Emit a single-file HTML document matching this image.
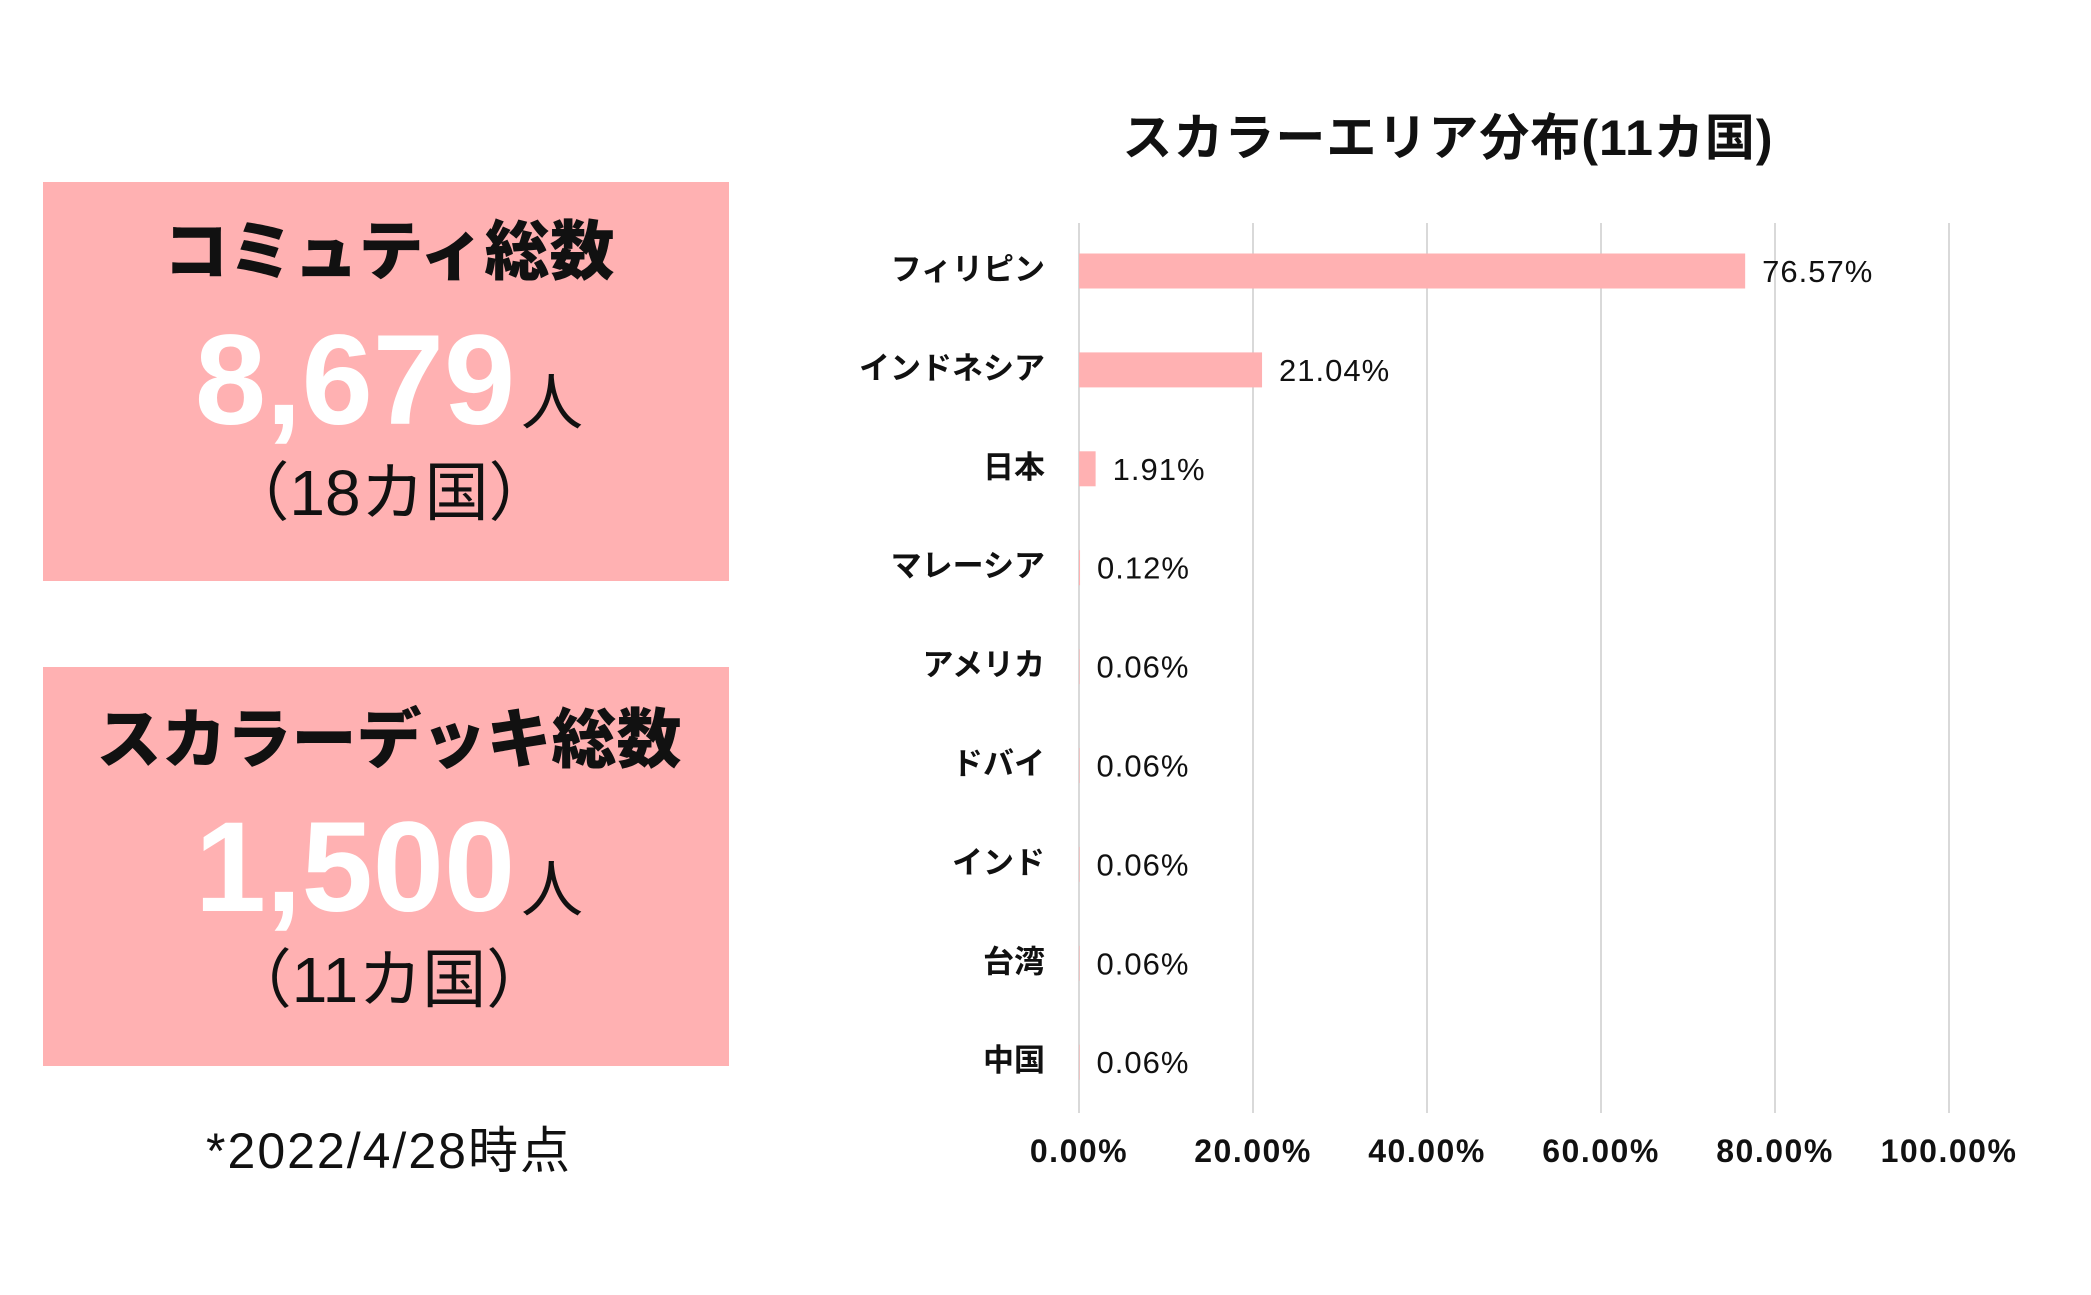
<!DOCTYPE html>
<html><head><meta charset="utf-8"><style>
body{margin:0;background:#fff;width:2091px;height:1295px;overflow:hidden;font-family:"Liberation Sans","Noto Sans CJK JP",sans-serif}
</style></head><body>
<svg width="2091" height="1295" xmlns="http://www.w3.org/2000/svg" style="position:absolute;left:0;top:0" font-family="Liberation Sans, Noto Sans CJK JP, sans-serif">
<g>
<rect x="43" y="182" width="686" height="399" fill="#ffb1b2"/>
<text x="389" y="274" text-anchor="middle" font-size="65" font-weight="900" fill="#111">コミュティ総数</text>
<text x="355" y="424" text-anchor="middle" font-size="128" font-weight="bold" fill="#fff">8,679</text>
<text x="552" y="424" text-anchor="middle" font-size="62" fill="#111">人</text>
<text x="389" y="515" text-anchor="middle" font-size="64" fill="#111">（18カ国）</text>
</g>
<g>
<rect x="43" y="667" width="686" height="399" fill="#ffb1b2"/>
<text x="389" y="762" text-anchor="middle" font-size="65" font-weight="900" fill="#111">スカラーデッキ総数</text>
<text x="355" y="911" text-anchor="middle" font-size="128" font-weight="bold" fill="#fff">1,500</text>
<text x="552" y="911" text-anchor="middle" font-size="62" fill="#111">人</text>
<text x="389" y="1002" text-anchor="middle" font-size="64" fill="#111">（11カ国）</text>
</g>
<text x="389" y="1168" text-anchor="middle" font-size="50" letter-spacing="2" fill="#111">*2022/4/28時点</text>
<text x="1448" y="155" text-anchor="middle" font-size="50" letter-spacing="1" font-weight="bold" fill="#111">スカラーエリア分布(11カ国)</text>
<g id="chart"></g>
</svg>
<script>
const categories=["フィリピン","インドネシア","日本","マレーシア","アメリカ","ドバイ","インド","台湾","中国"];
const values=[76.57,21.04,1.91,0.12,0.06,0.06,0.06,0.06,0.06];
const ticks=[0,20,40,60,80,100];
const NS="http://www.w3.org/2000/svg";
const g=document.getElementById('chart');
const x0=1079,x1=1949,top0=223,bot=1113,rowY0=271,rowStep=98.9;
const xs=v=>x0+(v/100)*(x1-x0);
const ys=i=>rowY0+i*rowStep;
function el(t,a,txt){const e=document.createElementNS(NS,t);for(const k in a)e.setAttribute(k,a[k]);if(txt!==undefined)e.textContent=txt;g.appendChild(e);return e;}
ticks.forEach(t=>{
 const l=el('line',{x1:xs(t),x2:xs(t),y1:top0,y2:bot,stroke:'#d9d9d9','stroke-width':2});
 
 
 const tx=el('text',{x:xs(t),y:1162,'text-anchor':'middle','font-size':32,'letter-spacing':1.5,'font-weight':'bold',fill:'#111'},t.toFixed(2)+'%');
 
 
});
categories.forEach((c,i)=>{
 const y=ys(i);
 const lb=el('text',{x:1045,y:y+9,'text-anchor':'end','font-size':31,'font-weight':'bold',fill:'#111'},c);
 
 
 const b=el('rect',{x:x0,y:y-17.5,width:Math.max(0,xs(values[i])-x0),height:35,fill:'#ffb1b2'});
 
 
 const vl=el('text',{x:Math.max(xs(values[i])+17,1096),y:y+11,'font-size':31,'letter-spacing':1,fill:'#111'},values[i].toFixed(2)+'%');
 
 
});
</script>
</body></html>
